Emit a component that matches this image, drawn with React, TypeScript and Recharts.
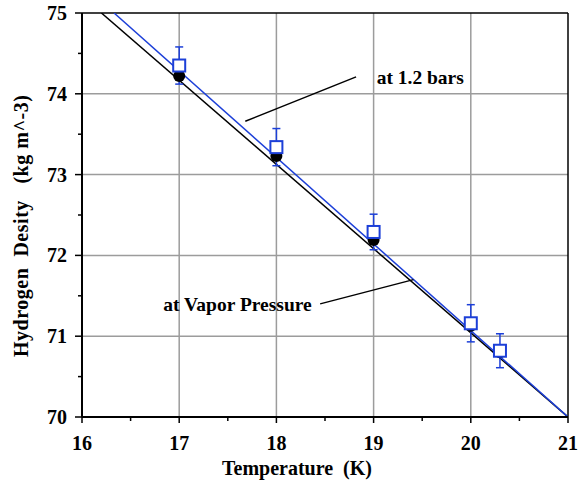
import {
  ComposedChart,
  Line,
  Scatter,
  ErrorBar,
  XAxis,
  YAxis,
  CartesianGrid,
  ReferenceLine,
  ReferenceDot,
} from "recharts";

// Hydrogen density vs temperature, two conditions.

const temps = [17, 18, 19, 20, 20.3];
const densityVapor = [74.22, 73.23, 72.19, 71.13, 70.8];
const density12 = [74.35, 73.34, 72.29, 71.16, 70.82];
const errors12 = [0.23, 0.23, 0.22, 0.23, 0.21];

// fitted lines, end points
const fitVaporT = [16.2, 21];
const fitVaporD = [75, 70];
const fit12T = [16.33, 21];
const fit12D = [75, 70];

const xTicks = [16, 16.5, 17, 17.5, 18, 18.5, 19, 19.5, 20, 20.5, 21];
const yTicks = [70, 70.5, 71, 71.5, 72, 72.5, 73, 73.5, 74, 74.5, 75];
const gridX = [17, 18, 19, 20];
const gridY = [71, 72, 73, 74];

const BLUE = "#1c3fd8";
const FONT = "Liberation Serif";
const txt = { fontFamily: FONT, fontWeight: 700, fill: "#000", whiteSpace: "pre" } as const;

const vaporPts = temps.map((t, i) => ({ t, d: densityVapor[i] }));
const barPts = temps.map((t, i) => ({ t, d: density12[i], err: errors12[i] }));
const vaporLine = fitVaporT.map((t, i) => ({ t, d: fitVaporD[i] }));
const barLine = fit12T.map((t, i) => ({ t, d: fit12D[i] }));

function XTick(props: any) {
  const { x, y, payload } = props;
  const major = Number.isInteger(payload.value);
  return (
    <g>
      <line x1={x} y1={y} x2={x} y2={y + (major ? 6 : 4)} stroke="#000" strokeWidth={1.5} />
      {major && (
        <text x={x} y={y + 33} textAnchor="middle" style={{ ...txt, fontSize: 20 }}>
          {payload.value}
        </text>
      )}
    </g>
  );
}

function YTick(props: any) {
  const { x, y, payload } = props;
  const major = Number.isInteger(payload.value);
  return (
    <g>
      <line x1={x} y1={y} x2={x - (major ? 7 : 4)} y2={y} stroke="#000" strokeWidth={1.5} />
      {major && (
        <text x={x - 15} y={y + 7} textAnchor="end" style={{ ...txt, fontSize: 20 }}>
          {payload.value}
        </text>
      )}
    </g>
  );
}

function Square(props: any) {
  const { cx, cy } = props;
  return <rect x={cx - 6} y={cy - 6} width={12} height={12} fill="#fff" stroke={BLUE} strokeWidth={2} />;
}

function Dot(props: any) {
  const { cx, cy } = props;
  return <circle cx={cx} cy={cy} r={6} fill="#000" />;
}

function note(text: string) {
  return (p: any) => (
    <text x={p.viewBox.x} y={p.viewBox.y} textAnchor="middle" style={{ ...txt, fontSize: 19.5 }}>
      {text}
    </text>
  );
}

export default function App() {
  return (
    <div style={{ position: "absolute", left: 0, top: 0, width: 579, height: 481, background: "#fff" }}>
      <ComposedChart width={579} height={481} margin={{ top: 13, right: 11, bottom: 0, left: 0 }}>
        <CartesianGrid
          horizontalValues={gridY}
          verticalValues={gridX}
          stroke="#9c9c9c"
          strokeWidth={1.5}
        />
        <XAxis
          dataKey="t"
          type="number"
          domain={[16, 21]}
          ticks={xTicks}
          interval={0}
          height={64}
          tickSize={0}
          tickMargin={0}
          tickLine={false}
          tick={<XTick />}
          axisLine={{ stroke: "#000", strokeWidth: 2 }}
          allowDataOverflow
          label={{
            content: (p: any) => (
              <text x={297} y={p.viewBox.y + 58} textAnchor="middle" style={{ ...txt, fontSize: 20 }}>
                Temperature  (K)
              </text>
            ),
          }}
        />
        <YAxis
          dataKey="d"
          type="number"
          domain={[70, 75]}
          ticks={yTicks}
          interval={0}
          width={82}
          tickSize={0}
          tickMargin={0}
          tickLine={false}
          tick={<YTick />}
          axisLine={{ stroke: "#000", strokeWidth: 2 }}
          allowDataOverflow
          label={{
            content: () => {
              const cx = 28;
              const cy = 226;
              return (
                <text
                  x={cx}
                  y={cy}
                  transform={`rotate(-90 ${cx} ${cy})`}
                  textAnchor="middle"
                  textLength={262}
                  lengthAdjust="spacing"
                  style={{ ...txt, fontSize: 20 }}
                >
                  Hydrogen  Desity   (kg m^-3)
                </text>
              );
            },
          }}
        />
        <ReferenceLine y={75} stroke="#000" strokeWidth={1.5} />
        <ReferenceLine x={21} stroke="#000" strokeWidth={1.5} />

        <Line data={vaporLine} dataKey="d" type="linear" stroke="#000" strokeWidth={1.5} dot={false} isAnimationActive={false} />
        <Line data={barLine} dataKey="d" type="linear" stroke={BLUE} strokeWidth={1.5} dot={false} isAnimationActive={false} />

        <Scatter data={vaporPts} dataKey="d" shape={<Dot />} isAnimationActive={false} />
        <Scatter data={barPts} dataKey="d" shape={<Square />} isAnimationActive={false}>
          <ErrorBar dataKey="err" direction="y" width={4} stroke={BLUE} strokeWidth={1.5} />
        </Scatter>

        <ReferenceLine segment={[{ x: 18.82, y: 74.21 }, { x: 17.68, y: 73.66 }]} stroke="#000" strokeWidth={1.5} />
        <ReferenceLine segment={[{ x: 18.45, y: 71.4 }, { x: 19.41, y: 71.7 }]} stroke="#000" strokeWidth={1.5} />
        <ReferenceDot x={19.48} y={74.12} r={0} stroke="none" label={{ content: note("at 1.2 bars") }} />
        <ReferenceDot x={17.6} y={71.31} r={0} stroke="none" label={{ content: note("at Vapor Pressure") }} />
      </ComposedChart>
    </div>
  );
}
